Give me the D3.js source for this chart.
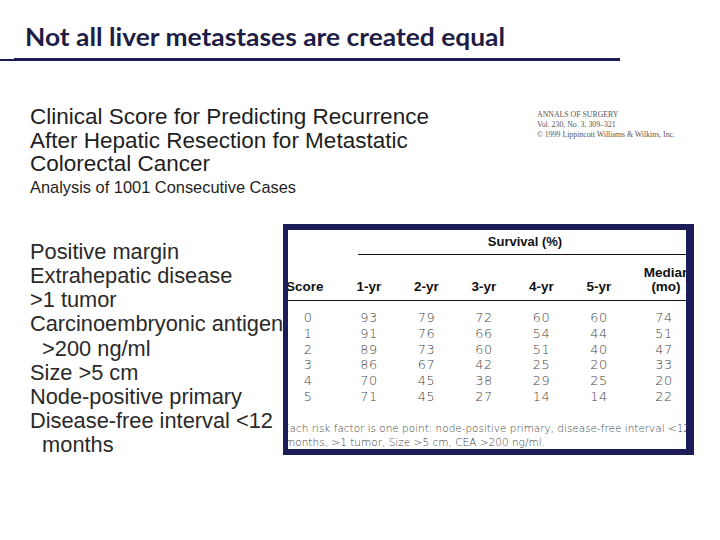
<!DOCTYPE html>
<html>
<head>
<meta charset="utf-8">
<script src="https://cdn.jsdelivr.net/npm/d3@7"></script>
<style>
  html, body { margin: 0; padding: 0; background: #ffffff; }
  svg { display: block; }
</style>
</head>
<body>
<div id="chart"></div>
<script>
// ---------- data ----------
const slideTitle = "Not all liver metastases are created equal";
const headingLines = [
  "Clinical Score for Predicting Recurrence",
  "After Hepatic Resection for Metastatic",
  "Colorectal Cancer"
];
const subHeading = "Analysis of 1001 Consecutive Cases";
const citationLines = [
  "ANNALS OF SURGERY",
  "Vol. 230, No. 3, 309\u2013321",
  "\u00A9 1999 Lippincott Williams & Wilkins, Inc."
];
const riskFactors = [
  "Positive margin",
  "Extrahepatic disease",
  ">1 tumor",
  "Carcinoembryonic antigen",
  "  >200 ng/ml",
  "Size >5 cm",
  "Node-positive primary",
  "Disease-free interval <12",
  "  months"
];
const survivalHeader = "Survival (%)";
const columns = ["1-yr", "2-yr", "3-yr", "4-yr", "5-yr"];
const scores = [0, 1, 2, 3, 4, 5];
const oneYr   = [93, 91, 89, 86, 70, 71];
const twoYr   = [79, 76, 73, 67, 45, 45];
const threeYr = [72, 66, 60, 42, 38, 27];
const fourYr  = [60, 54, 51, 25, 29, 14];
const fiveYr  = [60, 44, 40, 20, 25, 14];
const medianMo = [74, 51, 47, 33, 20, 22];
const footnote = [
  "Each risk factor is one point: node-positive primary, disease-free interval <12",
  "months, >1 tumor, Size >5 cm, CEA >200 ng/ml."
];

// ---------- drawing ----------
const W = 720, H = 540;
const navy = "#1c1c58";
const svg = d3.select("#chart").append("svg")
  .attr("width", W).attr("height", H)
  .style("background", "#fff");

// Slide title
svg.append("text")
  .attr("x", 25).attr("y", 46)
  .attr("font-family", "Lato, 'Open Sans', sans-serif")
  .attr("font-weight", 700)
  .attr("font-size", 25)
  .attr("fill", "#1d1d45")
  .attr("textLength", 480)
  .attr("lengthAdjust", "spacingAndGlyphs")
  .text(slideTitle);

svg.append("line")
  .attr("x1", 0).attr("x2", 14).attr("y1", 60).attr("y2", 60)
  .attr("stroke", navy).attr("stroke-width", 2);
svg.append("line")
  .attr("x1", 14).attr("x2", 620).attr("y1", 59.5).attr("y2", 59.5)
  .attr("stroke", navy).attr("stroke-width", 3);

// Heading
const headingY = d3.scalePoint().domain(d3.range(headingLines.length)).range([124, 171]);
svg.append("g").selectAll("text").data(headingLines).join("text")
  .attr("x", 30).attr("y", (d, i) => headingY(i))
  .attr("font-family", "'Liberation Sans', Arial, sans-serif")
  .attr("font-size", 22.5)
  .attr("fill", "#1e1e1e")
  .text(d => d);

svg.append("text")
  .attr("x", 30).attr("y", 193)
  .attr("font-family", "'Liberation Sans', Arial, sans-serif")
  .attr("font-size", 16.4)
  .attr("fill", "#1e1e1e")
  .text(subHeading);

// Citation
const citeY = d3.scalePoint().domain(d3.range(citationLines.length)).range([117, 137]);
svg.append("g").selectAll("text").data(citationLines).join("text")
  .attr("x", 537).attr("y", (d, i) => citeY(i))
  .attr("font-family", "'Liberation Serif', 'Times New Roman', serif")
  .attr("font-size", 7.8)
  .attr("fill", "#555")
  .text(d => d);

// Risk factor list
const listY = d3.scalePoint().domain(d3.range(riskFactors.length)).range([259, 452]);
svg.append("g").selectAll("text").data(riskFactors).join("text")
  .attr("x", 30).attr("y", (d, i) => listY(i))
  .attr("font-family", "'Liberation Sans', Arial, sans-serif")
  .attr("font-size", 21.8)
  .attr("fill", "#2a2a2a")
  .attr("xml:space", "preserve")
  .style("white-space", "pre")
  .text(d => d);

// ---------- table ----------
const tbl = { x0: 283, x1: 694, y0: 224, y1: 455, ix0: 288, ix1: 686, iy0: 230, iy1: 449 };

svg.append("defs").append("clipPath").attr("id", "inner")
  .append("rect")
  .attr("x", tbl.ix0).attr("y", tbl.iy0)
  .attr("width", tbl.ix1 - tbl.ix0).attr("height", tbl.iy1 - tbl.iy0);

const tg = svg.append("g").attr("clip-path", "url(#inner)");
tg.append("rect")
  .attr("x", tbl.ix0).attr("y", tbl.iy0)
  .attr("width", tbl.ix1 - tbl.ix0).attr("height", tbl.iy1 - tbl.iy0)
  .attr("fill", "#fff");

const colX = d3.scalePoint().domain(columns).range([369, 599]);
const scoreX = 308, medianX = 664;
const rowY = d3.scalePoint().domain(scores).range([322, 401]);

const headFont = "'Liberation Sans', Arial, sans-serif";
const bodyFont = "'DejaVu Sans', Verdana, sans-serif";

tg.append("text")
  .attr("x", 525).attr("y", 246)
  .attr("text-anchor", "middle")
  .attr("font-family", headFont).attr("font-weight", 700).attr("font-size", 13)
  .attr("fill", "#111")
  .text(survivalHeader);

tg.append("line")
  .attr("x1", 358).attr("x2", tbl.ix1).attr("y1", 254.5).attr("y2", 254.5)
  .attr("stroke", "#111").attr("stroke-width", 1.2);

tg.append("text")
  .attr("x", 286).attr("y", 291)
  .attr("font-family", headFont).attr("font-weight", 700).attr("font-size", 13.5)
  .attr("fill", "#111")
  .text("Score");

tg.append("g").selectAll("text").data(columns).join("text")
  .attr("x", d => colX(d)).attr("y", 291)
  .attr("text-anchor", "middle")
  .attr("font-family", headFont).attr("font-weight", 700).attr("font-size", 13.5)
  .attr("fill", "#111")
  .text(d => d);

tg.append("text")
  .attr("x", 667).attr("y", 277)
  .attr("text-anchor", "middle")
  .attr("font-family", headFont).attr("font-weight", 700).attr("font-size", 13.5)
  .attr("fill", "#111")
  .text("Median");
tg.append("text")
  .attr("x", 666).attr("y", 291)
  .attr("text-anchor", "middle")
  .attr("font-family", headFont).attr("font-weight", 700).attr("font-size", 13.5)
  .attr("fill", "#111")
  .text("(mo)");

tg.append("line")
  .attr("x1", tbl.ix0).attr("x2", tbl.ix1).attr("y1", 300.5).attr("y2", 300.5)
  .attr("stroke", "#111").attr("stroke-width", 1.2);

const series = [oneYr, twoYr, threeYr, fourYr, fiveYr];
const cells = [];
scores.forEach((s, r) => {
  cells.push({ x: scoreX, y: rowY(s), v: s });
  columns.forEach((c, j) => cells.push({ x: colX(c), y: rowY(s), v: series[j][r] }));
  cells.push({ x: medianX, y: rowY(s), v: medianMo[r] });
});
tg.append("g").selectAll("text").data(cells).join("text")
  .attr("x", d => d.x).attr("y", d => d.y)
  .attr("text-anchor", "middle")
  .attr("font-family", bodyFont).attr("font-weight", 300).attr("font-size", 12.8)
  .attr("letter-spacing", 0.6)
  .attr("fill", "#444")
  .text(d => d.v);

const footY = [432, 446];
const footX = [283, 285];
const footLen = [407, 260];
tg.append("g").selectAll("text").data(footnote).join("text")
  .attr("x", (d, i) => footX[i]).attr("y", (d, i) => footY[i])
  .attr("font-family", bodyFont).attr("font-weight", 300).attr("font-size", 10.5)
  .attr("fill", "#444")
  .attr("textLength", (d, i) => footLen[i])
  .attr("lengthAdjust", "spacingAndGlyphs")
  .text(d => d);

// Frame
const frame = svg.append("g").attr("fill", navy);
frame.append("rect").attr("x", tbl.x0).attr("y", tbl.y0).attr("width", tbl.x1 - tbl.x0).attr("height", tbl.iy0 - tbl.y0);
frame.append("rect").attr("x", tbl.x0).attr("y", tbl.iy1).attr("width", tbl.x1 - tbl.x0).attr("height", tbl.y1 - tbl.iy1);
frame.append("rect").attr("x", tbl.x0).attr("y", tbl.y0).attr("width", tbl.ix0 - tbl.x0).attr("height", tbl.y1 - tbl.y0);
frame.append("rect").attr("x", tbl.ix1).attr("y", tbl.y0).attr("width", tbl.x1 - tbl.ix1).attr("height", tbl.y1 - tbl.y0);
</script>
</body>
</html>
